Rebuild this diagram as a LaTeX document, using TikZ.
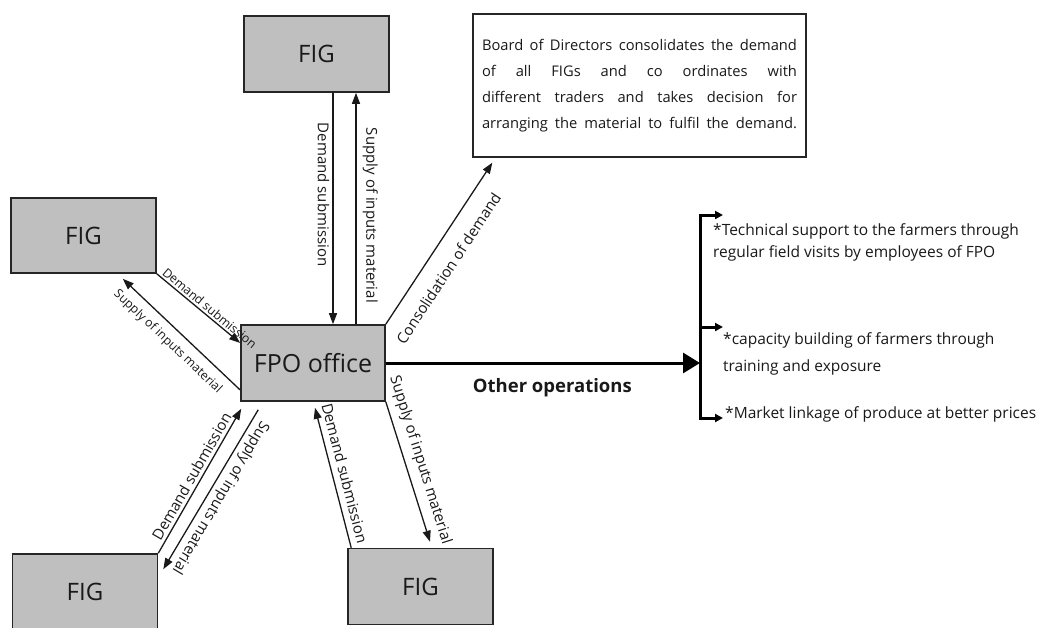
\documentclass[tikz,border=0pt]{standalone}
\usepackage{fontspec}
\setmainfont{Open Sans}
\usetikzlibrary{positioning,arrows.meta}
\newcommand{\jline}[1]{\leavevmode\hbox to 315pt{\spaceskip=0.27em plus 1fil\relax #1}}

\begin{document}
\begin{tikzpicture}[x=1pt, y=1pt, >={Triangle[length=11pt,width=8pt]},
    figbox/.style={rectangle, draw=black!85, fill=black!25, line width=1.6pt, minimum width=145pt, minimum height=76pt, text=black!90, font=\fontsize{24}{26}\selectfont},
    flow/.style={line width=1.3pt, draw=black!90},
    lbl/.style={font=\fontsize{15}{17}\selectfont, text=black!90, sloped, inner sep=3pt},
    smalllbl/.style={font=\fontsize{12.3}{14}\selectfont, text=black!90, sloped, inner sep=2pt},
    item/.style={anchor=north west, align=left, inner sep=0pt, text=black!90, font=\fontsize{15.5}{22}\selectfont}]

\useasboundingbox (0,0) rectangle (1041,-627);
\clip (0,0) rectangle (1041,-627);

% 1. Centre and the five FIG boxes
\node[figbox, minimum width=144pt, font=\fontsize{25}{28}\selectfont] (fpo) at (313,-363) {FPO office};
\node[figbox] (figT) at (316.5,-54) {FIG};
\node[figbox, minimum height=75pt] (figL) at (83.5,-235.5) {FIG};
\node[figbox] (figBL) at (85,-592) {FIG};
\node[figbox] (figBR) at (420.5,-586.5) {FIG};

% 2. Board of Directors box (Top Right)
\node[draw=black!85, line width=1.3pt, minimum width=333pt, minimum height=143pt, text width=315pt, align=left,
      text=black!90, font=\fontsize{14.7}{26}\selectfont] (board) at (639.5,-85.5)
    {\jline{Board of Directors consolidates the demand}\\
     \jline{of all FIGs and co ordinates with}\\
     \jline{different traders and takes decision for}\\
     \jline{arranging the material to fulfil the demand.}};

% 3. Demand and supply arrows
\draw[flow, ->] ([xshift=20pt]fpo.north |- figT.south) -- ([xshift=20pt]fpo.north)
    node[lbl, pos=0.44, below] {Demand submission};
\draw[flow, <-] ([xshift=43pt]fpo.north |- figT.south) -- ([xshift=43pt]fpo.north)
    node[lbl, pos=0.53, above, inner sep=6pt] {Supply of inputs material};

\draw[flow, ->] (figL.south east) -- ([yshift=20pt]fpo.west)
    node[smalllbl, pos=0.58, above] {Demand submission};
\draw[flow, ->] ([yshift=-27pt]fpo.west) -- ([xshift=-34pt,yshift=-5pt]figL.south east)
    node[smalllbl, pos=0.53, below, inner sep=8pt] {Supply of inputs material};

\draw[flow, ->] (figBL.north east) -- ([shift={(1pt,-7pt)}]fpo.south west)
    node[lbl, pos=0.5, above] {Demand submission};
\draw[flow, ->] ([shift={(18pt,-8pt)}]fpo.south west) -- ([shift={(5pt,-16pt)}]figBL.north east)
    node[lbl, pos=0.51, above, inner sep=4pt, allow upside down] {Supply of inputs material};

\draw[flow, ->] ([xshift=4pt]figBR.north west) -- ([shift={(2pt,-6pt)}]fpo.south)
    node[lbl, pos=0.51, above, inner sep=6pt] {Demand submission};
\draw[flow, ->] (fpo.south east) -- ([shift={(9.5pt,6pt)}]figBR.north)
    node[lbl, pos=0.45, above, inner sep=7pt] {Supply of inputs material};

\draw[flow, ->] (fpo.north east) -- ([shift={(20pt,-5pt)}]board.south west)
    node[lbl, pos=0.42, below, inner sep=15pt] {Consolidation of demand};

% 4. Other operations and the bracket
\coordinate (brtop) at (700,-215);
\coordinate (brmid) at (700,-327);
\coordinate (brbot) at (700,-418);
\draw[line width=3pt, -{Triangle[length=17pt,width=20pt]}] (fpo.east) -- (fpo.east -| brtop)
    node[pos=0.53, below, inner sep=14pt, text=black!90, font=\fontsize{18.5}{20}\selectfont\bfseries] {Other operations};
\draw[line width=3pt, {Triangle[length=8pt,width=8pt]}-{Triangle[length=8pt,width=8pt]}]
    ([xshift=23pt]brtop) -- (brtop) -- (brbot) -- ([xshift=23pt]brbot);
\draw[line width=3pt, -{Triangle[length=8pt,width=8pt]}] (brmid) -- ([xshift=23pt]brmid);

\node[item] (tech) at (713,-223) {*Technical support to the farmers through\\regular field visits by employees of FPO};
\node[item] (capa) at (723,-332) {*capacity building of farmers through\\[5pt]training and exposure};
\node[item] (market) at (725,-406) {*Market linkage of produce at better prices};

\end{tikzpicture}
\end{document}
